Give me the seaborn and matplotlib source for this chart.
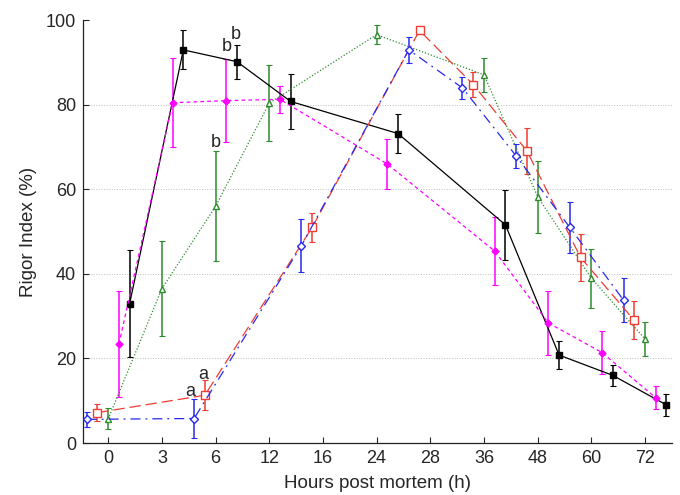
import matplotlib
matplotlib.use('Agg')
import matplotlib.pyplot as plt
import seaborn as sns
import pandas as pd

# x axis is categorical-like: hours shown at equally spaced tick slots
hour_labels = ['0', '3', '6', '12', '16', '24', '28', '36', '48', '60', '72']

# positions are in tick-slot units (each group slightly offset)
black_x = [0.4, 1.4, 2.4, 3.4, 5.4, 7.4, 8.4, 9.4, 10.4]
black_y = [33.0, 93.0, 90.2, 80.8, 73.2, 51.6, 20.8, 16.0, 9.0]
black_err = [12.6, 4.6, 4.0, 6.5, 4.7, 8.2, 3.3, 2.4, 2.7]

magenta_x = [0.2, 1.2, 2.2, 3.2, 5.2, 7.2, 8.2, 9.2, 10.2]
magenta_y = [23.4, 80.5, 81.0, 81.3, 66.0, 45.4, 28.4, 21.4, 10.7]
magenta_err = [12.5, 10.5, 9.8, 3.2, 6.0, 8.0, 7.5, 5.1, 2.7]

green_x = [0.0, 1.0, 2.0, 3.0, 5.0, 7.0, 8.0, 9.0, 10.0]
green_y = [5.7, 36.5, 56.0, 80.4, 96.6, 87.1, 58.3, 39.0, 24.6]
green_err = [2.5, 11.3, 13.0, 9.0, 2.3, 4.0, 8.5, 7.0, 4.0]

red_x = [-0.2, 1.8, 3.8, 5.8, 6.8, 7.8, 8.8, 9.8]
red_y = [7.2, 11.3, 51.0, 97.6, 84.8, 69.1, 43.9, 29.0]
red_err = [2.0, 3.5, 3.5, 0.8, 3.0, 5.5, 5.5, 4.5]

blue_x = [-0.4, 1.6, 3.6, 5.6, 6.6, 7.6, 8.6, 9.6]
blue_y = [5.6, 5.8, 46.7, 93.0, 84.0, 67.9, 51.0, 33.8]
blue_err = [1.8, 4.6, 6.3, 3.0, 2.5, 2.8, 6.0, 5.2]

sns.set_style('ticks')
plt.rcParams['font.family'] = ['Liberation Sans', 'DejaVu Sans']

fig = plt.figure(figsize=(6.8, 4.95), dpi=100)
ax = fig.add_axes([0.122, 0.105, 0.866, 0.854])

series = [
    (black_x, black_y, black_err, 'black', 's', 'black', '-', 4.5),
    (magenta_x, magenta_y, magenta_err, '#ff00ff', 'D', '#ff00ff', (0, (3, 2.5)), 3.5),
    (green_x, green_y, green_err, '#2e8b2e', '^', 'white', (0, (1, 1.5)), 5),
    (red_x, red_y, red_err, '#f03c32', 's', 'white', (0, (9, 4)), 5.5),
    (blue_x, blue_y, blue_err, '#2828f0', 'D', 'white', (0, (8, 4, 1.5, 4)), 4),
]

for xs, ys, errs, col, mk, face, ls, ms in series:
    df = pd.DataFrame({'x': xs, 'y': ys})
    ax.errorbar(xs, ys, yerr=errs, fmt='none', ecolor=col, elinewidth=1.1,
                capsize=2, capthick=0.8, zorder=2)
    sns.lineplot(x='x', y='y', data=df, ax=ax, color=col, linestyle=ls,
                 linewidth=0.9, marker=mk, markersize=ms, markerfacecolor=face,
                 markeredgecolor=col, markeredgewidth=1, estimator=None,
                 sort=False, zorder=3)

# significance letters
letters = [
    (1.77, 16.3, 'a'), (1.53, 12.1, 'a'),
    (2.37, 96.6, 'b'), (2.21, 93.7, 'b'), (2.0, 71.1, 'b'),
]
for lx, ly, lt in letters:
    ax.text(lx, ly, lt, ha='center', va='center', fontsize=13)

ax.set_xlim(-0.47, 10.5)
ax.set_ylim(0, 100)
ax.set_xticks(range(len(hour_labels)))
ax.set_xticklabels(hour_labels)
ax.set_yticks([0, 20, 40, 60, 80, 100])
ax.tick_params(direction='in', length=4, width=0.8, labelsize=13, pad=5)
ax.set_xlabel('Hours post mortem (h)', fontsize=13.5, labelpad=6)
ax.set_ylabel('Rigor Index (%)', fontsize=13.5, labelpad=6)

ax.yaxis.grid(True, linestyle=':', color='#bbbbbb', linewidth=0.7)
gl = ax.yaxis.get_gridlines()
gl[0].set_visible(False)
gl[-1].set_visible(False)
ax.set_axisbelow(True)

sns.despine(ax=ax)
for s in ['left', 'bottom']:
    ax.spines[s].set_linewidth(0.9)
    ax.spines[s].set_color('#222222')

fig.savefig('out.png', dpi=100)
